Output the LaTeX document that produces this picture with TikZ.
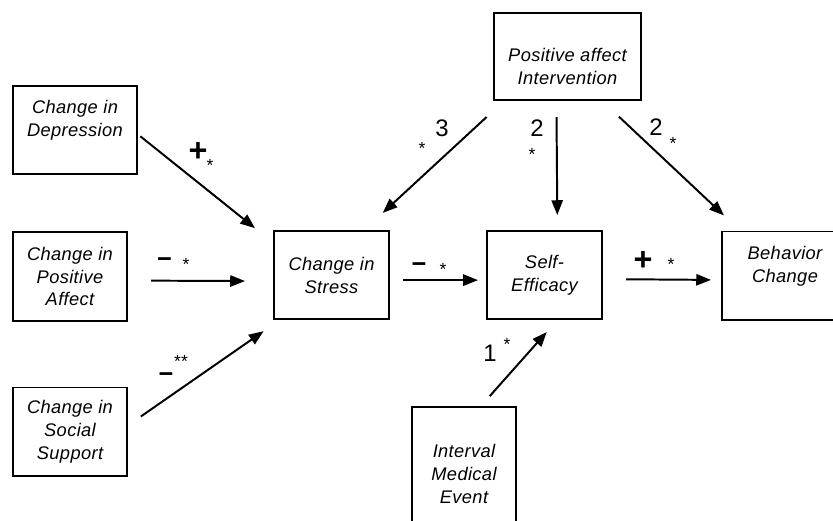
\documentclass[tikz,border=0pt]{standalone}
\usepackage{fontspec}
\setmainfont{Liberation Sans}
\newfontfamily\boxfont[LetterSpace=2]{Liberation Sans}
\usetikzlibrary{arrows.meta, positioning}

\begin{document}
\begin{tikzpicture}[x=0.025cm, y=-0.025cm,
  box/.style={draw, line width=1.4pt, align=center, inner sep=0pt,
    font=\boxfont\itshape\fontsize{13}{16.3}\selectfont},
  arr/.style={line width=1.4pt, -{Triangle[length=10.5pt, width=8pt]}},
  sign/.style={font=\bfseries\fontsize{23}{23}\selectfont, inner sep=0pt},
  minus/.style={font=\bfseries\fontsize{18}{18}\selectfont, inner sep=0pt},
  num/.style={font=\fontsize{17}{17}\selectfont, inner sep=0pt},
  star/.style={font=\fontsize{12.5}{12.5}\selectfont, inner sep=0pt}]
  \useasboundingbox (0,0) rectangle (833,520);
  \clip (0,0) rectangle (833,520);

  % Predictors on the left
  \node[box, minimum width=3.1cm, minimum height=2.2cm] (dep) at (75,130) {Change in\\Depression\\~};
  \node[box, minimum width=2.85cm, minimum height=2.225cm] (paff) at (70,276.5) {Change in\\Positive\\Affect};
  \node[box, minimum width=2.85cm, minimum height=2.2cm] (soc) at (70,431.5) {Change in\\Social\\Support};

  % Mediators and outcome
  \node[box, minimum width=2.875cm, minimum height=2.2cm] (stress) at (331.5,275) {Change in\\Stress};
  \node[box, minimum width=2.875cm, minimum height=2.2cm] (se) at (544.5,275) {Self-\\Efficacy};
  \node[box, minimum width=3.15cm, minimum height=2.2cm] (beh) at (785,275.5) {Behavior\\Change\\~};

  % Intervention and medical event
  \node[box, minimum width=3.675cm, minimum height=2.175cm] (intv) at (567.5,56.5) {\strut\\[-4pt]Positive affect\\Intervention};
  \node[box, minimum width=2.6cm, minimum height=3.35cm] (med) at (464,474) {Interval\\Medical\\Event};

  % Paths into stress
  \draw[arr, shorten <=0.075cm, shorten >=0.575cm] (dep.-4.6) -- (stress.151.3);
  \draw[arr, shorten <=0.575cm, shorten >=0.7cm] (paff.-4.5) -- (stress.186);
  \draw[arr, shorten <=0.39cm, shorten >=0.49cm] (soc.6.6) -- (stress.221.7);
  \draw[arr, shorten <=0.59cm, shorten >=0.63cm] (intv.215.1) -- (stress.54.9);

  % Paths into self-efficacy and behavior
  \draw[arr, shorten <=0.4cm, shorten >=0.375cm] (intv.256.4) -- (se.74.1);
  \draw[arr, shorten <=0.57cm, shorten >=0.55cm] (intv.308.3) -- (beh.135.4);
  \draw[arr, shorten <=0.325cm, shorten >=0.2cm] (stress.-5.96) -- (se.185.96);
  \draw[arr, shorten <=0.575cm, shorten >=0.25cm] (se.-4.97) -- (beh.184.1);
  \draw[arr, shorten <=0.33cm, shorten >=0.4cm] (med.76.4) -- (se.286.5);

  % Path labels
  \node[sign] (l-dep) at (198,152) {+};
  \node[star] (s-dep) at (210,165) {*};
  \node[minus] (l-paff) at (164.5,263) {−};
  \node[star] (s-paff) at (186,264) {*};
  \node[minus] (l-soc) at (166,378) {−};
  \node[star] (s-soc) at (181,361) {**};
  \node[num] (l-str) at (442,128) {3};
  \node[star] (s-str) at (422,148) {*};
  \node[num] (l-se) at (537,128) {2};
  \node[star] (s-se) at (532,154) {*};
  \node[num] (l-beh) at (656,127) {2};
  \node[star] (s-beh) at (673,143) {*};
  \node[minus] (l-sse) at (419,268) {−};
  \node[star] (s-sse) at (443,269) {*};
  \node[sign] (l-sbeh) at (643,261) {+};
  \node[star] (s-sbeh) at (671,264) {*};
  \node[num] (l-med) at (490,353) {1};
  \node[star] (s-med) at (507,344) {*};
\end{tikzpicture}
\end{document}
